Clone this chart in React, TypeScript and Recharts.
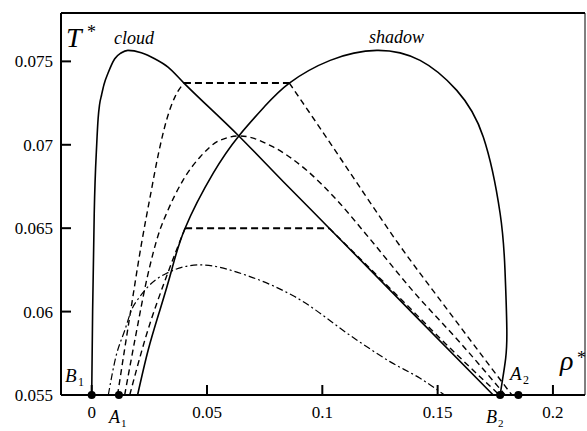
import React from 'react';
import { LineChart, Line, XAxis, YAxis } from 'recharts';

// axis ticks
const rhoTicks = [0, 0.05, 0.1, 0.15, 0.2];
const rhoTickLabels = ['0', '0.05', '0.1', '0.15', '0.2'];
const tTicks = [0.055, 0.06, 0.065, 0.07, 0.075];
const tTickLabels = ['0.055', '0.06', '0.065', '0.07', '0.075'];

// cloud curve (solid)
const cloudRho = [0, 0.0004, 0.0011, 0.0022, 0.0028, 0.0034, 0.0043, 0.0053, 0.0071, 0.01, 0.0127, 0.0157, 0.0215, 0.0273, 0.0331, 0.04, 0.0638, 0.083, 0.103, 0.1385, 0.1741];
const cloudT = [0.055, 0.06, 0.0659, 0.0701, 0.0716, 0.0724, 0.073, 0.0736, 0.0743, 0.07516, 0.0755, 0.07566, 0.07552, 0.07516, 0.07466, 0.0737, 0.07053, 0.0678, 0.065, 0.06, 0.055];

// shadow curve (solid)
const shadowRho = [0.0199, 0.0245, 0.0296, 0.0345, 0.0405, 0.0527, 0.0638, 0.075, 0.0857, 0.1034, 0.1236, 0.1424, 0.1583, 0.1698, 0.1771, 0.1792, 0.18, 0.1795, 0.178, 0.1771];
const shadowT = [0.055, 0.0577, 0.0601, 0.0624, 0.065, 0.0683, 0.07053, 0.0723, 0.0737, 0.07506, 0.07566, 0.07506, 0.07326, 0.07047, 0.06588, 0.0625, 0.059, 0.0572, 0.0558, 0.055];

// tie lines (dashed, bold)
const tieHighRho = [0.04, 0.0857];
const tieHighT = [0.0737, 0.0737];
const tieLowRho = [0.0405, 0.103];
const tieLowT = [0.065, 0.065];

// incipient curves from the upper tie line
const highLeftRho = [0.0112, 0.0165, 0.0215, 0.0255, 0.029, 0.0325, 0.0362, 0.04];
const highLeftT = [0.055, 0.0597, 0.064, 0.067, 0.0695, 0.0715, 0.0729, 0.0737];
const highRightRho = [0.0857, 0.1005, 0.1185, 0.1308, 0.1565, 0.1822];
const highRightT = [0.0737, 0.0707, 0.067, 0.0645, 0.0597, 0.055];

// dashed dome
const domeRho = [0.0143, 0.019, 0.024, 0.0296, 0.0325, 0.0397, 0.047, 0.0556, 0.0643, 0.0787, 0.0932, 0.1062, 0.1199, 0.1395, 0.16, 0.1793];
const domeT = [0.055, 0.0585, 0.062, 0.0649, 0.0659, 0.0679, 0.06927, 0.07027, 0.07053, 0.06987, 0.06847, 0.0667, 0.06448, 0.0612, 0.0581, 0.055];

// incipient curves from the lower tie line
const lowLeftRho = [0.0165, 0.0235, 0.0335, 0.0405];
const lowLeftT = [0.055, 0.0585, 0.0625, 0.065];
const lowRightRho = [0.103, 0.1337, 0.1555, 0.1768];
const lowRightT = [0.065, 0.0608, 0.0578, 0.055];

// dash-dot curve
const dashDotRho = [0.0072, 0.0105, 0.0144, 0.0173, 0.0209, 0.0238, 0.0325, 0.047, 0.0686, 0.088, 0.1149, 0.1293, 0.1424, 0.153];
const dashDotT = [0.055, 0.0573, 0.0589, 0.0601, 0.0609, 0.0614, 0.0623, 0.0628, 0.0621, 0.0609, 0.0583, 0.057, 0.056, 0.055];

// marked points B1, A1, B2, A2
const markRho = [0, 0.0118, 0.1771, 0.185];
const markT = [0.055, 0.055, 0.055, 0.055];

const pts = (rho: number[], t: number[]) => rho.map((x, i) => ({ x, y: t[i] }));

const serif = '"Liberation Serif", "Times New Roman", serif';
const rhoDomain = [-0.01331, 0.2139];
const tDomain = [0.055, 0.0779];

function LeftTick({ x, y, payload }: any) {
  const label = tTickLabels[tTicks.indexOf(payload.value)];
  return (
    <g>
      <line x1={x} x2={x + 10} y1={y} y2={y} stroke="#000" strokeWidth={2} />
      <text x={x - 8} y={y} dy="0.35em" textAnchor="end" fontSize={17} fontFamily={serif} fill="#000">{label}</text>
    </g>
  );
}

function RightTick({ x, y }: any) {
  return <line x1={x} x2={x - 9} y1={y} y2={y} stroke="#000" strokeWidth={2} />;
}

function BottomTick({ x, y, payload }: any) {
  const label = rhoTickLabels[rhoTicks.indexOf(payload.value)];
  return (
    <g>
      <line x1={x} x2={x} y1={y} y2={y - 10} stroke="#000" strokeWidth={2} />
      <text x={x} y={y + 17} dy="0.35em" textAnchor="middle" fontSize={17} fontFamily={serif} fill="#000">{label}</text>
    </g>
  );
}

function TopTick({ x, y }: any) {
  return <line x1={x} x2={x} y1={y} y2={y + 9} stroke="#000" strokeWidth={2} />;
}

export default function App() {
  const solid = { stroke: '#000', strokeWidth: 1.6, dot: false, isAnimationActive: false };
  const dashed = { stroke: '#000', strokeWidth: 1.4, strokeDasharray: '6 4', dot: false, isAnimationActive: false, type: 'monotone' as const };
  const tie = { stroke: '#000', strokeWidth: 2, strokeDasharray: '7 4', dot: false, isAnimationActive: false, type: 'linear' as const };
  return (
    <div style={{ position: 'absolute', left: 0, top: 0, width: 587, height: 431, background: '#fff' }}>
      <LineChart width={587} height={431} margin={{ top: 0, right: 0, bottom: 0, left: 0 }}>
        <XAxis dataKey="x" type="number" domain={rhoDomain} ticks={rhoTicks} height={36} tickSize={0} tickMargin={0}
          tickLine={false} axisLine={{ stroke: '#000', strokeWidth: 2.2 }} tick={<BottomTick />} />
        <XAxis xAxisId="top" orientation="top" dataKey="x" type="number" domain={rhoDomain} ticks={rhoTicks} height={13}
          tickSize={0} tickMargin={0} tickLine={false} axisLine={{ stroke: '#000', strokeWidth: 2 }} tick={<TopTick />} />
        <YAxis type="number" domain={tDomain} ticks={tTicks} width={61} tickSize={0} tickMargin={0}
          tickLine={false} axisLine={{ stroke: '#000', strokeWidth: 2 }} tick={<LeftTick />} />
        <YAxis yAxisId="right" orientation="right" type="number" domain={tDomain} ticks={tTicks} width={2}
          tickSize={0} tickMargin={0} tickLine={false} axisLine={{ stroke: '#000', strokeWidth: 1 }} tick={<RightTick />} />

        <Line data={pts(cloudRho, cloudT)} dataKey="y" type="monotone" {...solid} />
        <Line data={pts(shadowRho, shadowT)} dataKey="y" type="natural" {...solid} />
        <Line data={pts(tieHighRho, tieHighT)} dataKey="y" {...tie} />
        <Line data={pts(tieLowRho, tieLowT)} dataKey="y" {...tie} />
        <Line data={pts(highLeftRho, highLeftT)} dataKey="y" {...dashed} />
        <Line data={pts(highRightRho, highRightT)} dataKey="y" {...dashed} />
        <Line data={pts(domeRho, domeT)} dataKey="y" {...dashed} />
        <Line data={pts(lowLeftRho, lowLeftT)} dataKey="y" {...dashed} />
        <Line data={pts(lowRightRho, lowRightT)} dataKey="y" {...dashed} />
        <Line data={pts(dashDotRho, dashDotT)} dataKey="y" stroke="#000" strokeWidth={1.2} strokeDasharray="7 3 2 3"
          dot={false} isAnimationActive={false} type="monotone" />
        <Line data={pts(markRho, markT)} dataKey="y" stroke="none" strokeWidth={0}
          dot={{ r: 4, fill: '#000', stroke: 'none' }} isAnimationActive={false} />
      </LineChart>
      <svg width={587} height={431} style={{ position: 'absolute', left: 0, top: 0, pointerEvents: 'none' }}
        fontFamily={serif} fontStyle="italic" fill="#000">
        <text x={66} y={47} fontSize={28}>T</text>
        <text x={87} y={38} fontSize={18} fontStyle="normal">*</text>
        <text x={114} y={44} fontSize={18}>cloud</text>
        <text x={369} y={43} fontSize={18}>shadow</text>
        <text x={560} y={370} fontSize={28}>ρ</text>
        <text x={577} y={364} fontSize={18} fontStyle="normal">*</text>
        <text x={65} y={382} fontSize={19}>B</text>
        <text x={78} y={386} fontSize={12} fontStyle="normal">1</text>
        <text x={109} y={423} fontSize={18}>A</text>
        <text x={121} y={427} fontSize={11} fontStyle="normal">1</text>
        <text x={486} y={423} fontSize={18}>B</text>
        <text x={498} y={427} fontSize={11} fontStyle="normal">2</text>
        <text x={510} y={380} fontSize={19}>A</text>
        <text x={523} y={384} fontSize={12} fontStyle="normal">2</text>
      </svg>
    </div>
  );
}
